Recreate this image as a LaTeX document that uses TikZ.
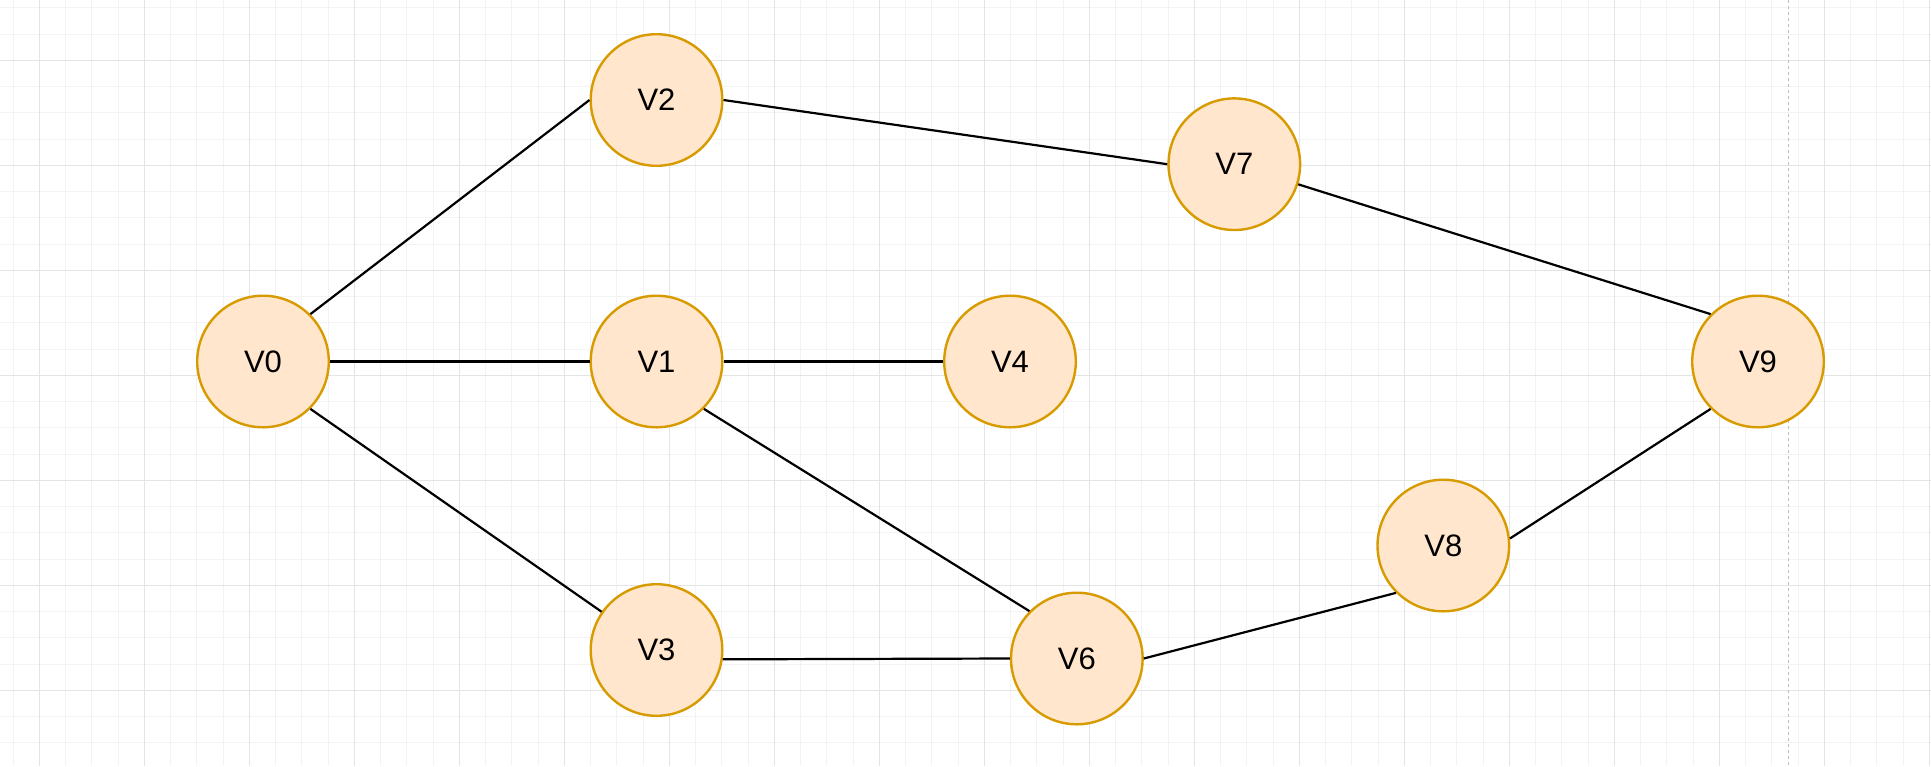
\documentclass[tikz,border=0pt]{standalone}
\usepackage{fontspec}
\setmainfont{Liberation Sans}
\definecolor{nodefill}{HTML}{FFE6CC}
\definecolor{nodedraw}{HTML}{D79B00}
\definecolor{gridminor}{HTML}{F3F3F3}
\definecolor{gridmajor}{HTML}{E4E4E4}
\definecolor{guide}{HTML}{BDBDBD}
\tikzset{
  vert/.style={circle, draw=nodedraw, fill=nodefill, line width=1.2pt, minimum size=65.8pt, inner sep=0pt, font=\fontsize{15.5}{18}\selectfont},
  edge/.style={line width=1.1pt, black},
}
\begin{document}
\begin{tikzpicture}[x=0.5pt,y=-0.5pt]
\useasboundingbox (0,0) rectangle (1931,766);
\fill[white] (0,0) rectangle (1931,766);
% minor grid
\foreach \k in {0,...,73} {
  \draw[gridminor, line width=0.5pt] ({13.05+\k*26.25},0) -- ({13.05+\k*26.25},766);
}
\foreach \k in {0,...,29} {
  \draw[gridminor, line width=0.5pt] (0,{7.8+\k*26.25}) -- (1931,{7.8+\k*26.25});
}
% major grid
\foreach \k in {0,...,18} {
  \draw[gridmajor, line width=0.5pt] ({39.3+\k*105},0) -- ({39.3+\k*105},766);
}
\foreach \k in {0,...,6} {
  \draw[gridmajor, line width=0.5pt] (0,{60.3+\k*105}) -- (1931,{60.3+\k*105});
}
% guide line
\draw[guide, line width=0.6pt, dash pattern=on 1.5pt off 1.5pt] (1788.7,0) -- (1788.7,766);

% nodes
\node[vert] (V0) at (263,361.5) {V0};
\node[vert] (V1) at (656.5,361.5) {V1};
\node[vert] (V2) at (656.5,100) {V2};
\node[vert] (V3) at (656.5,650) {V3};
\node[vert] (V4) at (1010,361.5) {V4};
\node[vert] (V6) at (1076.8,658.5) {V6};
\node[vert] (V7) at (1234.3,164.2) {V7};
\node[vert] (V8) at (1443.3,545.5) {V8};
\node[vert] (V9) at (1758,361.5) {V9};

% edges
\draw[edge] (V0.45) -- (V2.west);
\draw[edge] (V0.east) -- (V1.west);
\draw[edge] (V0.-45) -- (V3);
\draw[edge] (V1.east) -- (V4.west);
\draw[edge] (V1.-45) -- (V6.135);
\draw[edge] (V3.-8) -- (V6.west);
\draw[edge] (V2.east) -- (V7.west);
\draw[edge] (V7) -- (V9.135);
\draw[edge] (V6.east) -- (V8.-135);
\draw[edge] (V8.6) -- (V9.-135);
\end{tikzpicture}
\end{document}
